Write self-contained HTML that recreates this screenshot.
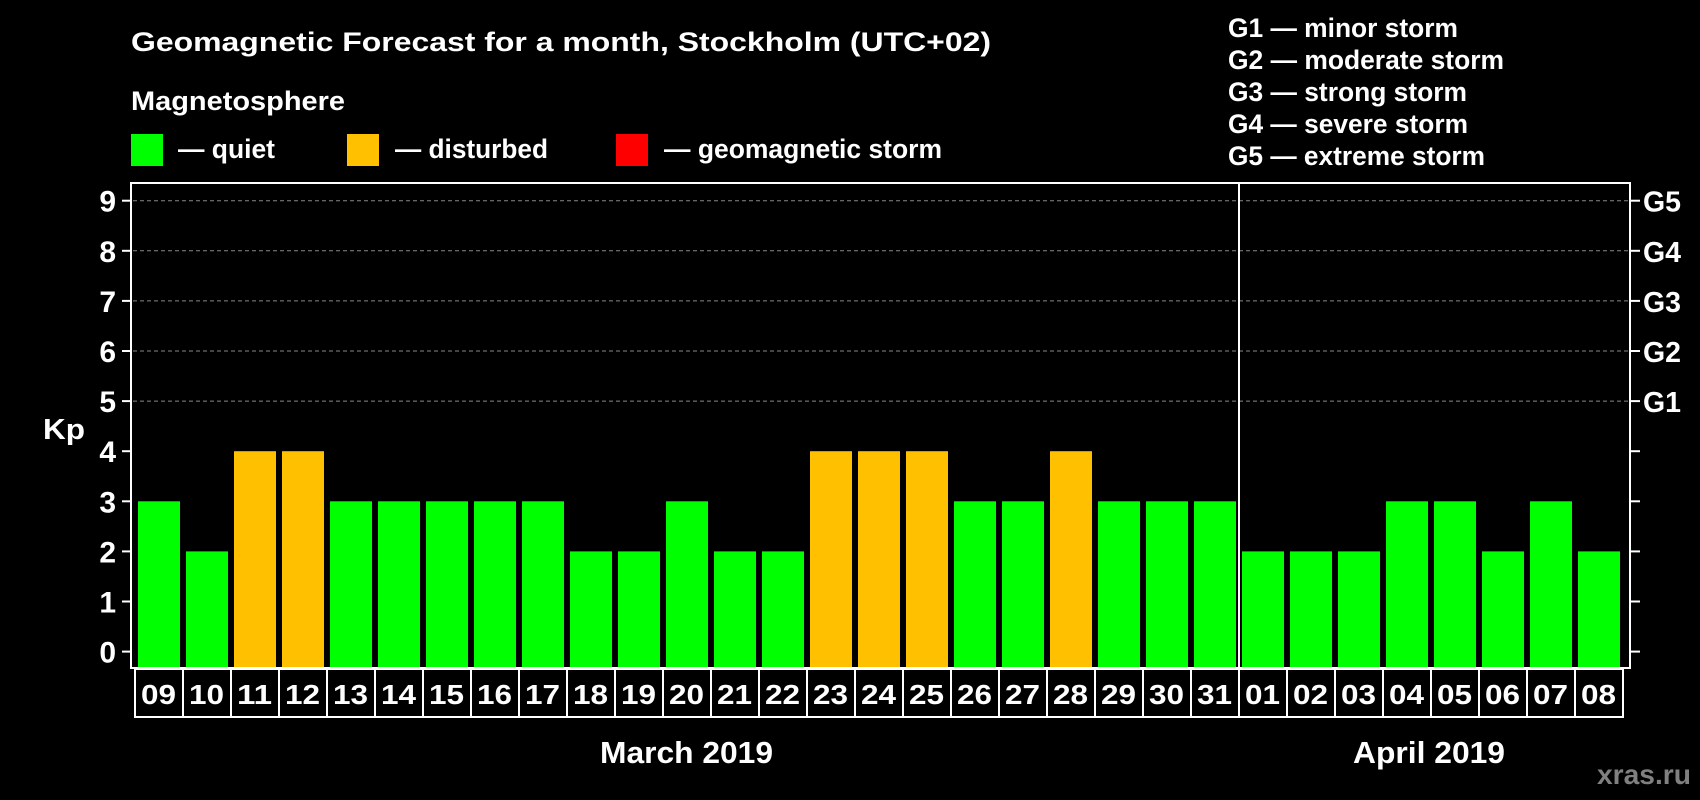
<!DOCTYPE html>
<html><head><meta charset="utf-8"><style>
html,body{margin:0;padding:0;background:#000;}
svg{display:block;font-family:"Liberation Sans",sans-serif;font-weight:bold;}
</style></head><body>
<svg id="chart" width="1700" height="800" viewBox="0 0 1700 800" xmlns="http://www.w3.org/2000/svg">
<rect x="0" y="0" width="1700" height="800" fill="#000"/>
<text x="131" y="51" fill="#fff" font-size="27" textLength="860" lengthAdjust="spacingAndGlyphs">Geomagnetic Forecast for a month, Stockholm (UTC+02)</text>
<text x="131" y="110" fill="#fff" font-size="27" textLength="214" lengthAdjust="spacingAndGlyphs">Magnetosphere</text>
<g><rect x="131" y="134" width="32" height="32" fill="#00ff00"/><text x="178" y="158" fill="#fff" font-size="27" textLength="97" lengthAdjust="spacingAndGlyphs">— quiet</text></g>
<g><rect x="347" y="134" width="32" height="32" fill="#ffc000"/><text x="395" y="158" fill="#fff" font-size="27" textLength="153" lengthAdjust="spacingAndGlyphs">— disturbed</text></g>
<g><rect x="616" y="134" width="32" height="32" fill="#ff0000"/><text x="664" y="158" fill="#fff" font-size="27" textLength="278" lengthAdjust="spacingAndGlyphs">— geomagnetic storm</text></g>
<g fill="#fff" font-size="27">
<text x="1228" y="37" textLength="230" lengthAdjust="spacingAndGlyphs">G1 — minor storm</text>
<text x="1228" y="69" textLength="276" lengthAdjust="spacingAndGlyphs">G2 — moderate storm</text>
<text x="1228" y="101" textLength="239" lengthAdjust="spacingAndGlyphs">G3 — strong storm</text>
<text x="1228" y="133" textLength="240" lengthAdjust="spacingAndGlyphs">G4 — severe storm</text>
<text x="1228" y="165" textLength="257" lengthAdjust="spacingAndGlyphs">G5 — extreme storm</text>
</g>
<text x="43" y="439" fill="#fff" font-size="29" textLength="42" lengthAdjust="spacingAndGlyphs">Kp</text>
<g id="grid"></g>
<g id="bars"></g>
<g id="labels"></g>
<rect x="131" y="183" width="1499" height="485" fill="none" stroke="#fff" stroke-width="2"/>
<text x="600" y="763" fill="#fff" font-size="31" textLength="173" lengthAdjust="spacingAndGlyphs">March 2019</text>
<text x="1353" y="763" fill="#fff" font-size="31" textLength="152" lengthAdjust="spacingAndGlyphs">April 2019</text>
<text x="1597" y="784" fill="#808080" font-size="28" textLength="94" lengthAdjust="spacingAndGlyphs">xras.ru</text>
</svg>
<script>
const days = ["09","10","11","12","13","14","15","16","17","18","19","20","21","22","23","24","25","26","27","28","29","30","31","01","02","03","04","05","06","07","08"];
const kpValues = [3,2,4,4,3,3,3,3,3,2,2,3,2,2,4,4,4,3,3,4,3,3,3,2,2,2,3,3,2,3,2];
const yTicks = [0,1,2,3,4,5,6,7,8,9];
const gLabels = ["","","","","","G1","G2","G3","G4","G5"];
const monthSplit = 23;

const NS = "http://www.w3.org/2000/svg";
const y = v => 651.6 - v * 50.1;
const x = i => 138 + i * 48;
function mk(tag, attrs, parent) { const e = document.createElementNS(NS, tag); for (const k in attrs) e.setAttribute(k, attrs[k]); parent.appendChild(e); return e; }
const grid = document.getElementById("grid"), bars = document.getElementById("bars"), labels = document.getElementById("labels");

yTicks.forEach((t, k) => {
  const yy = y(t);
  if (t >= 5) {
    const gl = mk("line", {x1:133, x2:1628, y1:yy, y2:yy, stroke:"#888", "stroke-width":1, "stroke-dasharray":"4,3"}, grid);
    
    
  }
  mk("line", {x1:122, x2:131, y1:yy, y2:yy, stroke:"#fff", "stroke-width":2}, grid);
  mk("line", {x1:1630, x2:1640, y1:yy, y2:yy, stroke:"#fff", "stroke-width":2}, grid);
  const tl = mk("text", {x:116, y:yy + 11, fill:"#fff", "font-size":30, "text-anchor":"end"}, grid);
  tl.textContent = t;
  
  
  if (gLabels[k]) {
    const gt = mk("text", {x:1643, y:yy + 11, fill:"#fff", "font-size":29, textLength:38, lengthAdjust:"spacingAndGlyphs"}, grid);
    gt.textContent = gLabels[k];
    
    
  }
});

kpValues.forEach((v, i) => {
  const r = mk("rect", {x:x(i), y:y(v), width:42, height:667 - y(v), fill: v >= 5 ? "#ff0000" : (v >= 4 ? "#ffc000" : "#00ff00")}, bars);
  
  
  const b = mk("rect", {x:x(i) - 3, y:669, width:48, height:48, fill:"none", stroke:"#fff", "stroke-width":2}, labels);
  
  
  const t = mk("text", {x:x(i) + 3, y:704, fill:"#fff", "font-size":28, textLength:35, lengthAdjust:"spacingAndGlyphs"}, labels);
  t.textContent = days[i];
  
  
});
const sx = x(monthSplit) - 3;
const d = mk("line", {x1:sx, x2:sx, y1:183, y2:668, stroke:"#fff", "stroke-width":2}, bars);


</script>
</body></html>
